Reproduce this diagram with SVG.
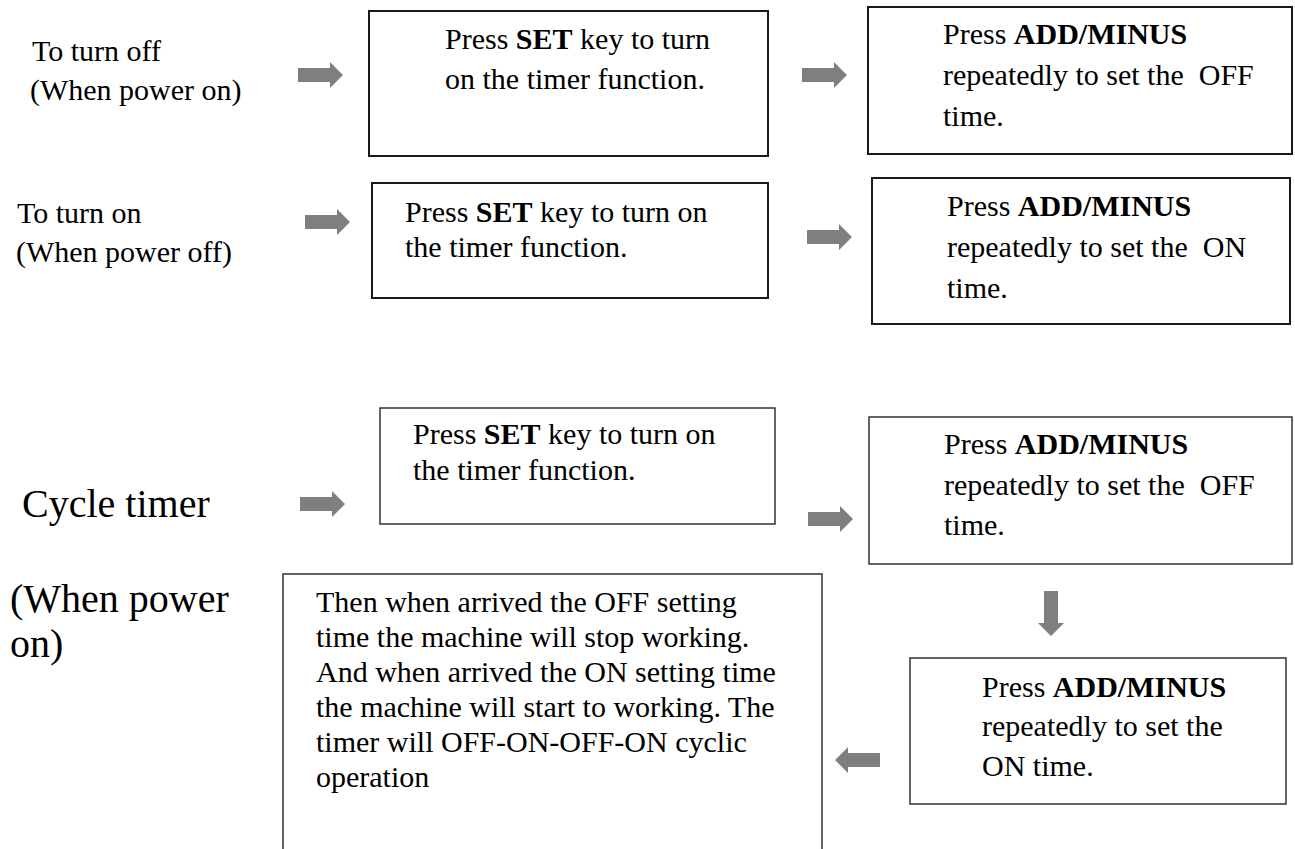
<svg xmlns="http://www.w3.org/2000/svg" width="1295" height="849" viewBox="0 0 1295 849">
<style>
.box{fill:#fff;stroke:#1a1a1a;stroke-width:2}
.box2{fill:#fff;stroke:#333;stroke-width:1.5}
.t{font-family:"Liberation Serif","Times New Roman",serif;font-size:30px;fill:#000}
.big{font-family:"Liberation Serif","Times New Roman",serif;font-size:40px;fill:#000}
.b{font-weight:bold}
.arr{fill:#7f7f7f}
</style>
<defs>
<path id="arrow" d="M0,-7 H32 V-13 L45,0 L32,13 V7 H0 Z"/>
</defs>
<rect width="1295" height="849" fill="#fff"/>

<g id="label-off">
<text class="t" x="32" y="61">To turn off</text>
<text class="t" x="30" y="100">(When power on)</text>
</g>
<g id="box-a1">
<rect class="box" x="369" y="11" width="399" height="145"/>
<text class="t" x="445" y="49">Press <tspan class="b">SET</tspan> key to turn</text>
<text class="t" x="445" y="89">on the timer function.</text>
</g>
<g id="box-a2">
<rect class="box" x="868" y="7" width="424" height="147"/>
<text class="t" x="943" y="44">Press <tspan class="b">ADD/MINUS</tspan></text>
<text class="t" x="943" y="85" xml:space="preserve">repeatedly to set the  OFF</text>
<text class="t" x="943" y="126">time.</text>
</g>

<g id="label-on">
<text class="t" x="17" y="223">To turn on</text>
<text class="t" x="16" y="262">(When power off)</text>
</g>
<g id="box-b1">
<rect class="box" x="372" y="183" width="396" height="115"/>
<text class="t" x="405" y="222">Press <tspan class="b">SET</tspan> key to turn on</text>
<text class="t" x="405" y="257">the timer function.</text>
</g>
<g id="box-b2">
<rect class="box" x="872" y="178" width="418" height="146"/>
<text class="t" x="947" y="216">Press <tspan class="b">ADD/MINUS</tspan></text>
<text class="t" x="947" y="257" xml:space="preserve">repeatedly to set the  ON</text>
<text class="t" x="947" y="298">time.</text>
</g>

<g id="label-cycle">
<text class="big" x="22" y="517">Cycle timer</text>
<text class="big" x="10" y="612">(When power</text>
<text class="big" x="10" y="657">on)</text>
</g>
<g id="box-c1">
<rect class="box2" x="380" y="408" width="395" height="116"/>
<text class="t" x="413" y="444">Press <tspan class="b">SET</tspan> key to turn on</text>
<text class="t" x="413" y="480">the timer function.</text>
</g>
<g id="box-c2">
<rect class="box2" x="869" y="417" width="423" height="147"/>
<text class="t" x="944" y="454">Press <tspan class="b">ADD/MINUS</tspan></text>
<text class="t" x="944" y="495" xml:space="preserve">repeatedly to set the  OFF</text>
<text class="t" x="944" y="535">time.</text>
</g>
<g id="box-c3">
<rect class="box2" x="283" y="574" width="539" height="290"/>
<text class="t" x="316" y="612">Then when arrived the OFF setting</text>
<text class="t" x="316" y="647">time the machine will stop working.</text>
<text class="t" x="316" y="682">And when arrived the ON setting time</text>
<text class="t" x="316" y="717">the machine will start to working. The</text>
<text class="t" x="316" y="752">timer will OFF-ON-OFF-ON cyclic</text>
<text class="t" x="316" y="787">operation</text>
</g>
<g id="box-c4">
<rect class="box2" x="910" y="658" width="376" height="146"/>
<text class="t" x="982" y="697">Press <tspan class="b">ADD/MINUS</tspan></text>
<text class="t" x="982" y="736">repeatedly to set the</text>
<text class="t" x="982" y="776">ON time.</text>
</g>

<g id="connectors" class="arr">
<use href="#arrow" transform="translate(298,75)"/>
<use href="#arrow" transform="translate(802,75)"/>
<use href="#arrow" transform="translate(305,222)"/>
<use href="#arrow" transform="translate(807,237)"/>
<use href="#arrow" transform="translate(300,504)"/>
<use href="#arrow" transform="translate(808,519)"/>
<use href="#arrow" transform="translate(1051,591) rotate(90)"/>
<use href="#arrow" transform="translate(880,760) rotate(180)"/>
</g>
</svg>
